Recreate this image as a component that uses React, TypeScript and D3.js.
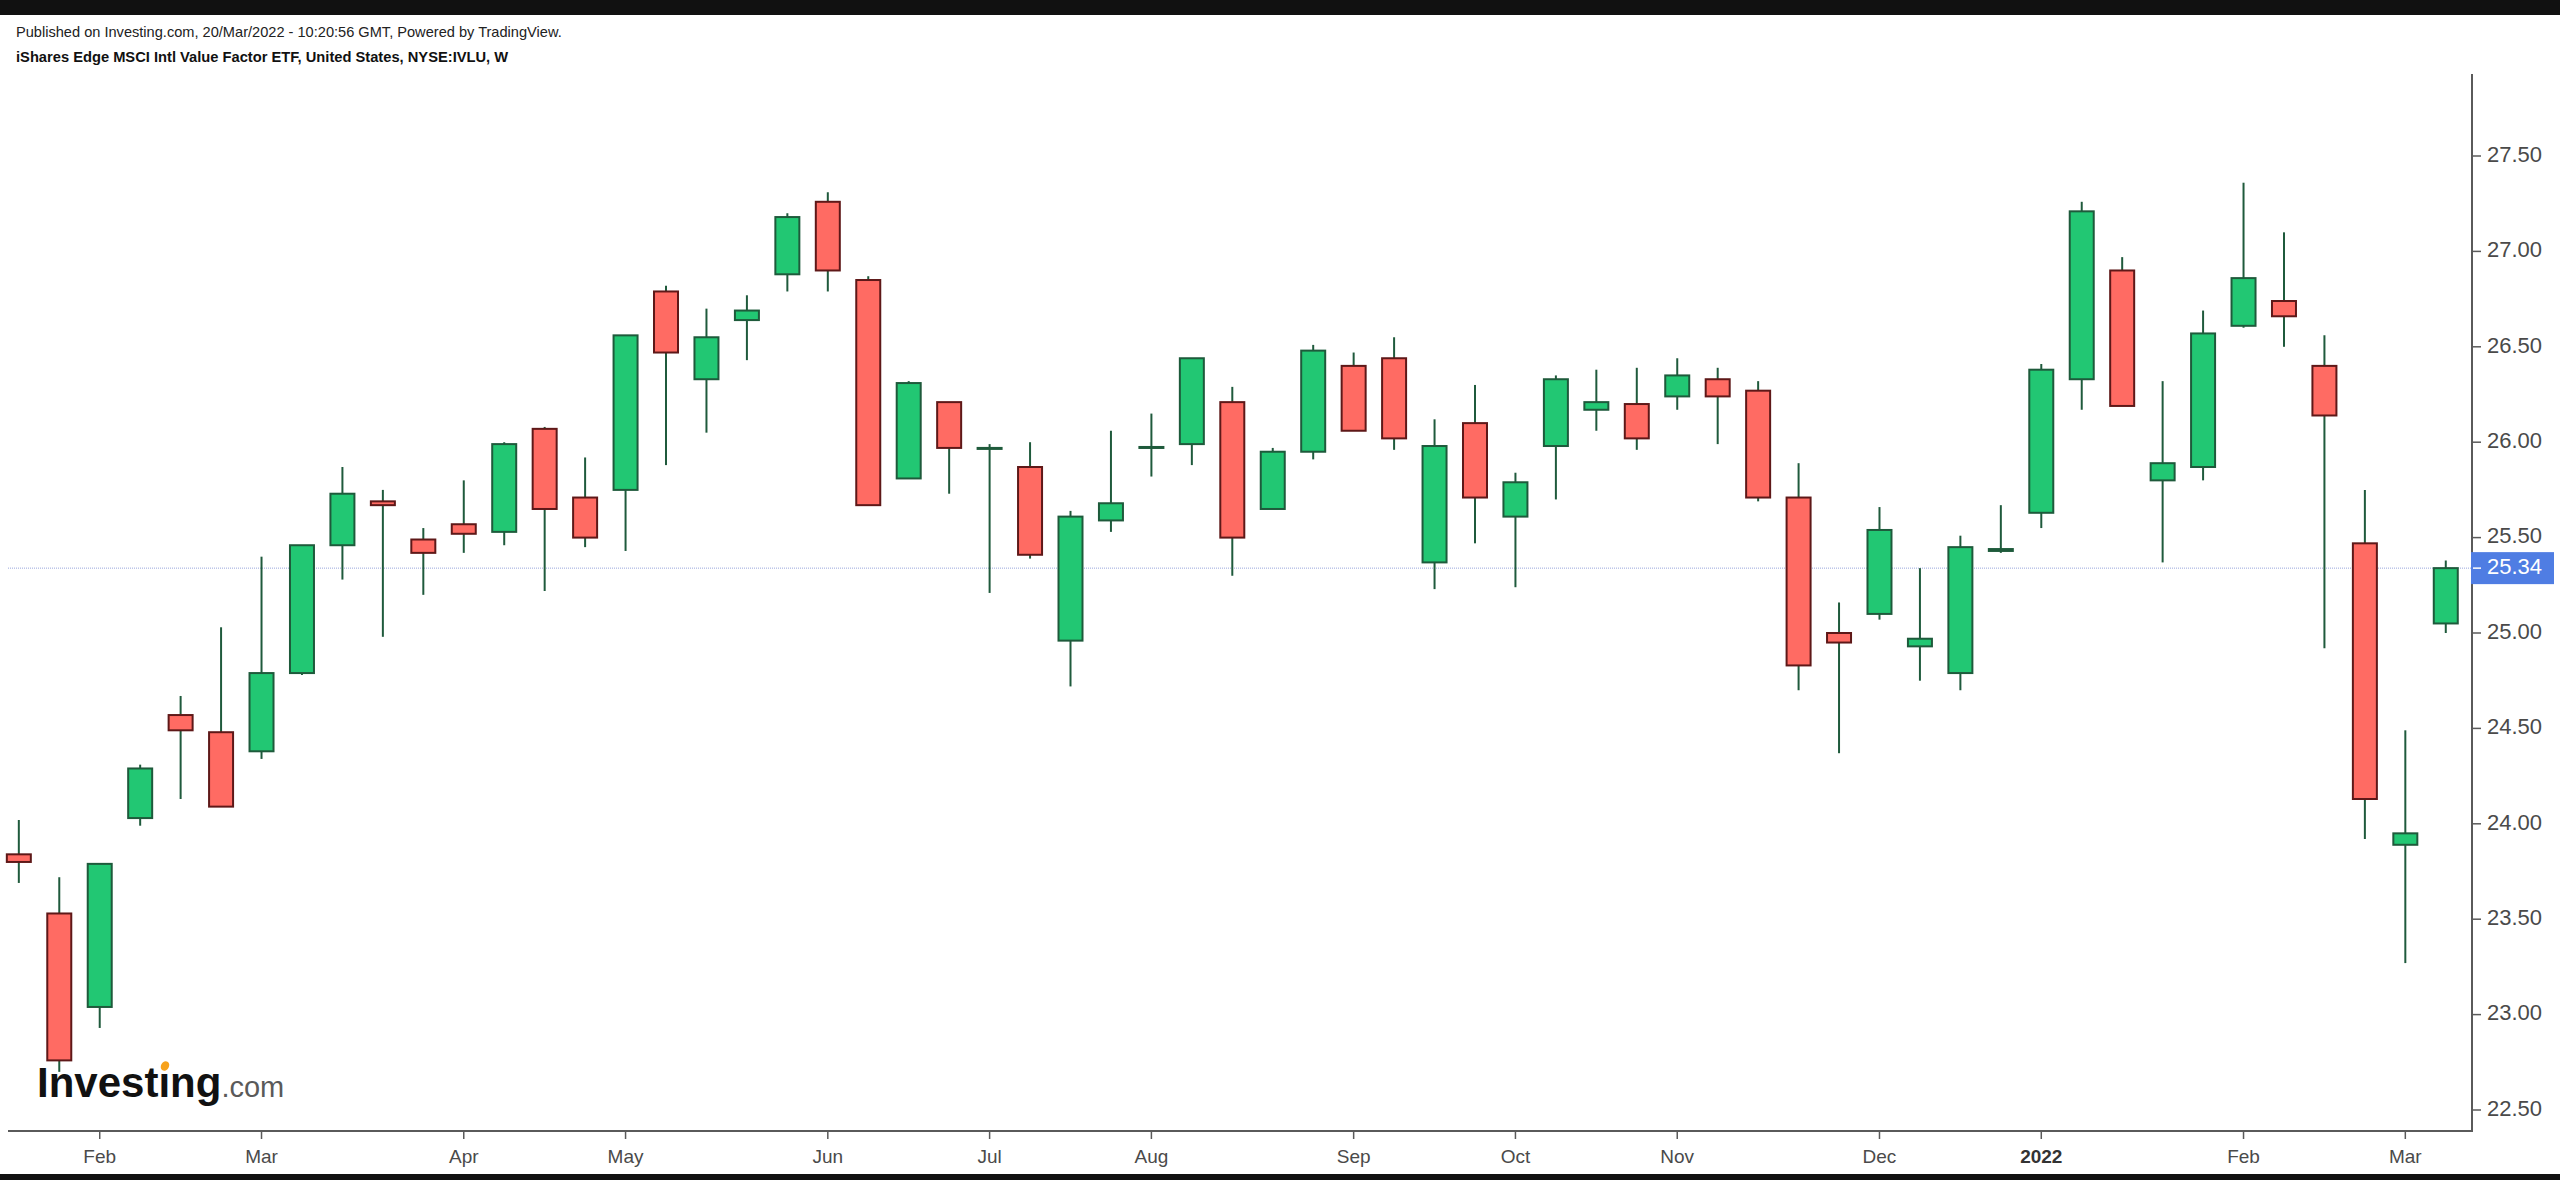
import React from "react";
import * as d3 from "d3";

// Weekly OHLC, IVLU, week of 2021-01-18 .. week of 2022-03-14
const opens = [
  23.84, 23.53, 23.04, 24.03, 24.57, 24.48, 24.38, 24.79, 25.46, 25.69,
  25.49, 25.57, 25.53, 26.07, 25.71, 25.75, 26.79, 26.33, 26.64, 26.88,
  27.26, 26.85, 25.81, 26.21, 25.965, 25.87, 24.96, 25.59, 25.97, 25.99,
  26.21, 25.65, 25.95, 26.40, 26.44, 25.37, 26.10, 25.61, 25.98, 26.17,
  26.20, 26.24, 26.33, 26.27, 25.71, 25.00, 25.10, 24.93, 24.79, 25.43,
  25.63, 26.33, 26.90, 25.80, 25.87, 26.61, 26.74, 26.40, 25.47, 23.89,
  25.05,
];
const highs = [
  24.02, 23.72, 23.79, 24.31, 24.67, 25.03, 25.40, 25.46, 25.87, 25.75,
  25.55, 25.80, 26.00, 26.08, 25.92, 26.56, 26.82, 26.70, 26.77, 27.20,
  27.31, 26.87, 26.32, 26.21, 25.99, 26.00, 25.64, 26.06, 26.15, 26.44,
  26.29, 25.97, 26.51, 26.47, 26.55, 26.12, 26.30, 25.84, 26.35, 26.38,
  26.39, 26.44, 26.39, 26.32, 25.89, 25.16, 25.66, 25.34, 25.51, 25.67,
  26.41, 27.26, 26.97, 26.32, 26.69, 27.36, 27.10, 26.56, 25.75, 24.49,
  25.38,
];
const lows = [
  23.69, 22.70, 22.93, 23.99, 24.13, 24.09, 24.34, 24.78, 25.28, 24.98,
  25.20, 25.42, 25.46, 25.22, 25.45, 25.43, 25.88, 26.05, 26.43, 26.79,
  26.79, 25.67, 25.81, 25.73, 25.21, 25.39, 24.72, 25.53, 25.82, 25.88,
  25.30, 25.65, 25.91, 26.06, 25.96, 25.23, 25.47, 25.24, 25.70, 26.06,
  25.96, 26.17, 25.99, 25.69, 24.70, 24.37, 25.07, 24.75, 24.70, 25.42,
  25.55, 26.17, 26.19, 25.37, 25.80, 26.60, 26.50, 24.92, 23.92, 23.27,
  25.00,
];
const closes = [
  23.80, 22.76, 23.79, 24.29, 24.49, 24.09, 24.79, 25.46, 25.73, 25.67,
  25.42, 25.52, 25.99, 25.65, 25.50, 26.56, 26.47, 26.55, 26.69, 27.18,
  26.90, 25.67, 26.31, 25.97, 25.97, 25.41, 25.61, 25.68, 25.975, 26.44,
  25.50, 25.95, 26.48, 26.06, 26.02, 25.98, 25.71, 25.79, 26.33, 26.21,
  26.02, 26.35, 26.24, 25.71, 24.83, 24.95, 25.54, 24.97, 25.45, 25.44,
  26.38, 27.21, 26.19, 25.89, 26.57, 26.86, 26.66, 26.14, 24.13, 23.95,
  25.34,
];
const yTicks = [22.5, 23, 23.5, 24, 24.5, 25, 25.5, 26, 26.5, 27, 27.5];
const lastPrice = 25.34;
const headerLine1 =
  "Published on Investing.com, 20/Mar/2022 - 10:20:56 GMT, Powered by TradingView.";
const headerLine2 =
  "iShares Edge MSCI Intl Value Factor ETF, United States, NYSE:IVLU, W";

const FONT = "'Liberation Sans', Arial, Helvetica, sans-serif";
const GREEN = "#22c773";
const GREEN_BORDER = "#1e5a3b";
const RED = "#ff6b63";
const RED_BORDER = "#5e1818";
const WICK = "#1f5a3c";

export default function App() {
  const W = 2560;
  const H = 1180;
  const dates = d3.timeMonday.range(new Date(2021, 0, 18), new Date(2022, 2, 15));
  const n = dates.length;
  const x = d3
    .scaleBand<number>()
    .domain(d3.range(n))
    .range([-1.4, 2466])
    .padding(0);
  const cx = (i: number) => (x(i) as number) + x.bandwidth() / 2;
  const y = d3.scaleLinear().domain([22.5, 27.5]).range([1110, 156]);

  const axisX = 2472;
  const axisY = 1131;
  const fmtMonth = d3.timeFormat("%b");

  const monthTicks: { i: number; label: string; bold: boolean }[] = [];
  dates.forEach((d, i) => {
    if (i === 0) return;
    if (d.getMonth() !== dates[i - 1].getMonth()) {
      const isYear = d.getMonth() === 0;
      monthTicks.push({
        i,
        label: isYear ? String(d.getFullYear()) : fmtMonth(d),
        bold: isYear,
      });
    }
  });

  const bodyW = 24;

  return (
    <svg
      width={W}
      height={H}
      style={{ position: "absolute", left: 0, top: 0, display: "block", background: "#fff" }}
      fontFamily={FONT}
    >
      <rect x={0} y={0} width={W} height={H} fill="#fff" />
      <rect x={0} y={0} width={W} height={15} fill="#111" />
      <rect x={0} y={1174} width={W} height={6} fill="#111" />

      <text x={16} y={37} fontSize={14.6} fill="#222">
        {headerLine1}
      </text>
      <text x={16} y={62} fontSize={14.7} fontWeight="bold" fill="#111">
        {headerLine2}
      </text>

      {/* last price dotted line */}
      <line
        x1={8}
        x2={axisX}
        y1={y(lastPrice)}
        y2={y(lastPrice)}
        stroke="#9aa6dc"
        strokeWidth={1}
        strokeDasharray="1 1"
      />

      {/* candles */}
      {dates.map((d, i) => {
        const o = opens[i];
        const c = closes[i];
        const up = c >= o;
        const top = y(Math.max(o, c));
        const bot = y(Math.min(o, c));
        const xc = cx(i);
        return (
          <g key={i}>
            <line
              x1={xc}
              x2={xc}
              y1={y(highs[i])}
              y2={y(lows[i])}
              stroke={WICK}
              strokeWidth={2}
            />
            <rect
              x={xc - bodyW / 2}
              y={top}
              width={bodyW}
              height={Math.max(bot - top, 1)}
              fill={up ? GREEN : RED}
              stroke={up ? GREEN_BORDER : RED_BORDER}
              strokeWidth={2}
            />
          </g>
        );
      })}

      {/* logo */}
      <text x={37} y={1097} fill="#111">
        <tspan fontSize={42} fontWeight="bold">{"Investıng"}</tspan>
        <tspan fontSize={29} fill="#5a5a5a">.com</tspan>
      </text>
      <ellipse
        cx={165}
        cy={1066}
        rx={4}
        ry={5}
        fill="#f7a21b"
        transform="rotate(30 165 1066)"
      />

      {/* axes */}
      <line x1={8} x2={axisX + 1} y1={axisY} y2={axisY} stroke="#5a5a5a" strokeWidth={2} />
      <line x1={axisX} x2={axisX} y1={74} y2={axisY} stroke="#5a5a5a" strokeWidth={2} />

      {monthTicks.map((t) => (
        <g key={t.i}>
          <line
            x1={cx(t.i)}
            x2={cx(t.i)}
            y1={axisY + 1}
            y2={axisY + 8}
            stroke="#5a5a5a"
            strokeWidth={1.5}
          />
          <text
            x={cx(t.i)}
            y={1163}
            fontSize={19}
            textAnchor="middle"
            fontWeight={t.bold ? "bold" : "normal"}
            fill={t.bold ? "#333" : "#4a4a4a"}
          >
            {t.label}
          </text>
        </g>
      ))}

      {yTicks.map((v) => (
        <g key={v}>
          <line
            x1={axisX + 1}
            x2={axisX + 9}
            y1={y(v)}
            y2={y(v)}
            stroke="#5a5a5a"
            strokeWidth={1.5}
          />
          <text
            x={2487}
            y={y(v)}
            fontSize={22}
            dominantBaseline="middle"
            fill="#4a4a4a"
          >
            {d3.format(".2f")(v)}
          </text>
        </g>
      ))}

      {/* last price label */}
      <rect x={axisX - 1} y={y(lastPrice) - 16} width={83} height={32} fill="#4f7de3" />
      <line
        x1={axisX + 1}
        x2={axisX + 9}
        y1={y(lastPrice)}
        y2={y(lastPrice)}
        stroke="#fff"
        strokeWidth={1.5}
      />
      <text
        x={2487}
        y={y(lastPrice)}
        fontSize={22}
        dominantBaseline="middle"
        fill="#fff"
      >
        {d3.format(".2f")(lastPrice)}
      </text>
    </svg>
  );
}
